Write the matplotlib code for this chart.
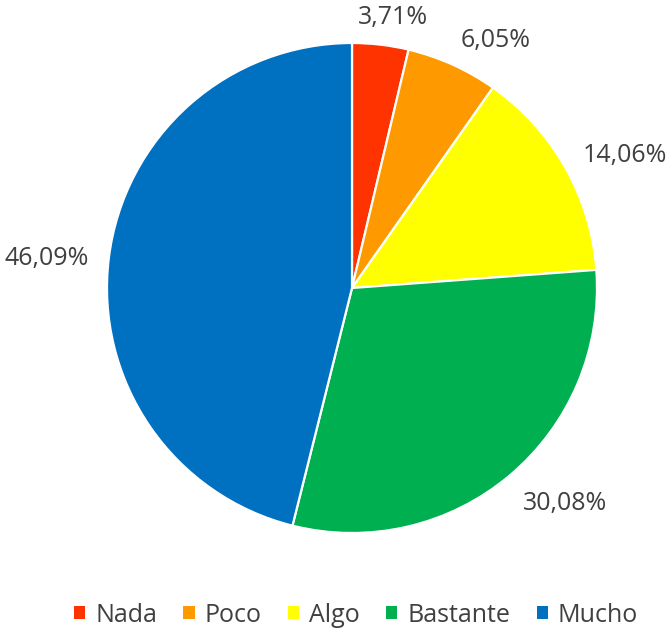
import numpy as np
import matplotlib.pyplot as plt
from matplotlib.patches import Patch

categories = ["Nada", "Poco", "Algo", "Bastante", "Mucho"]
values = [3.71, 6.05, 14.06, 30.08, 46.09]
colors = ["#FF3300", "#FF9900", "#FFFF00", "#00B050", "#0070C0"]

plt.rcParams['font.family'] = ['Open Sans', 'DejaVu Sans']

fig = plt.figure(figsize=(6.72, 6.3), dpi=100)
ax = fig.add_axes([0, 0, 1, 1])

cx, cy, R = 352, 342, 245
wedges, _ = ax.pie(values, colors=colors, startangle=90, counterclock=False,
                   center=(cx, cy), radius=R, frame=True,
                   wedgeprops=dict(edgecolor='white', linewidth=1.6))
ax.set_xlim(0, 672)
ax.set_ylim(0, 630)
ax.set_aspect('equal')
ax.axis('off')

# labels outside the pie (excel "outside end" style)
fig.canvas.draw()
renderer = fig.canvas.get_renderer()
gap = 20
for w, v in zip(wedges, values):
    ang = np.deg2rad((w.theta1 + w.theta2) / 2)
    t = ax.text(0, 0, f"{v:.2f}%".replace('.', ','), fontsize=18,
                color='#404040', ha='center', va='center')
    bb = t.get_window_extent(renderer)
    hw, hh = bb.width / 2, bb.height / 2 * 0.8
    px = cx + (R + gap) * np.cos(ang) + hw * np.clip(2.5 * np.cos(ang), -1, 1)
    py = cy + (R + gap) * np.sin(ang) + hh * 1.1 * np.sin(ang) - 4
    t.set_position((px, py))

handles = [Patch(facecolor=c, edgecolor='none') for c in colors]
fig.legend(handles, categories, loc='center', bbox_to_anchor=(356 / 672, 15 / 630),
           ncol=5, frameon=False, fontsize=18, handlelength=0.45, handleheight=0.45,
           handletextpad=0.4, columnspacing=1.05, labelcolor='#404040')

fig.savefig("out.png", dpi=100)
